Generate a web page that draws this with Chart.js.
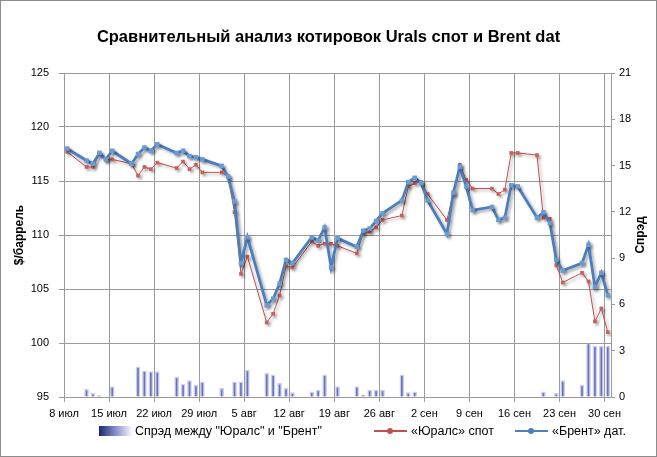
<!DOCTYPE html>
<html>
<head>
<meta charset="utf-8">
<script src="https://cdn.jsdelivr.net/npm/chart.js@4.4.0/dist/chart.umd.min.js"></script>
<style>
  body { margin: 0; background: #fff; }
  #wrap { position: relative; width: 657px; height: 457px; }
  #frame { position: absolute; left: 0; top: 0; width: 657px; height: 457px;
           box-sizing: border-box; border: 1px solid #8c8c8c; pointer-events: none; }
  .legend { position: absolute; left: 0; top: 423px; width: 657px; height: 16px;
            font: 12.5px "Liberation Sans", Arial, sans-serif; color: #000; }
  .lg-item { position: absolute; top: 0; height: 16px; display: flex; align-items: center; white-space: nowrap; }
  .swatch { width: 34px; height: 10px; margin-right: 2px;
            background: linear-gradient(to right, #1c2670, #7e87c6 45%, #fff); }
  .ln { position: relative; width: 33px; height: 2px; margin-right: 4px; }
  .ln i { position: absolute; left: 13px; top: -2px; width: 6px; height: 6px; border-radius: 50%; }
</style>
</head>
<body>
<div id="wrap">
  <canvas id="chart" width="657" height="457"></canvas>
  <div class="legend">
    <div class="lg-item" style="left:99px"><span class="swatch"></span>Спрэд между "Юралс" и "Брент"</div>
    <div class="lg-item" style="left:374px"><span class="ln" style="background:#c0504d"><i style="background:#c0504d"></i></span>«Юралс» спот</div>
    <div class="lg-item" style="left:515px"><span class="ln" style="background:#4f81bd"><i style="background:#4f81bd"></i></span>«Брент» дат.</div>
  </div>
  <div id="frame"></div>
</div>
<script>
"use strict";

// ── Data (2011, trading days) ─────────────────────────────
const tradeDates = [
  "07-08","07-11","07-12","07-13","07-14","07-15","07-18","07-19","07-20","07-21","07-22",
  "07-25","07-26","07-27","07-28","07-29",
  "08-01","08-02","08-03","08-04","08-05","08-08","08-09","08-10","08-11","08-12",
  "08-15","08-16","08-17","08-18","08-19","08-22","08-23","08-24","08-25","08-26",
  "08-29","08-30","08-31",
  "09-01","09-02","09-05","09-06","09-07","09-08","09-09","09-12","09-13","09-14","09-15","09-16",
  "09-19","09-20","09-21","09-22","09-23","09-26","09-27","09-28","09-29","09-30",
];

const brentDated = [
  118.0, 116.9, 116.6, 117.6, 117.0, 117.8, 116.6, 117.5, 118.1, 117.8, 118.4,
  117.6, 117.8, 117.3, 117.2, 117.0,
  116.4, 115.4, 113.1, 107.4, 109.8, 103.5, 104.1, 105.5, 107.7, 107.4,
  109.8, 109.5, 110.7, 107.0, 109.7, 108.9, 110.4, 110.6, 111.3, 112.0,
  113.2, 114.9, 115.3,
  114.8, 113.2, 110.1, 113.9, 116.3, 114.5, 112.3, 112.6, 111.4, 111.6, 114.6, 114.5,
  111.6, 112.1, 111.1, 107.7, 106.7, 107.4, 109.1, 105.2, 106.5, 104.4,
];

const uralsSpot = [
  117.7, 116.3, 116.3, 117.5, 117.0, 117.0, 116.6, 115.5, 116.3, 116.1, 116.7,
  116.2, 116.8, 116.1, 116.5, 115.8,
  115.8, 115.4, 112.1, 106.4, 108.0, 101.9, 102.7, 104.4, 107.1, 107.0,
  109.4, 109.0, 109.2, 109.2, 109.0, 108.3, 110.2, 110.3, 110.7, 111.4,
  111.8, 114.5, 114.8,
  114.9, 113.8, 111.4, 113.8, 116.5, 115.1, 114.3, 114.3, 113.8, 114.2, 117.6, 117.6,
  117.4, 111.6, 111.5, 107.2, 105.6, 106.5, 105.7, 102.0, 103.2, 101.0,
];

const spreadValues = [
  0, 0.5, 0.24, 0.1, 0, 0.67, 0, 1.96, 1.7, 1.64, 1.64,
  1.31, 0.84, 1.06, 0.78, 0.99,
  0.56, 0, 0.99, 0.99, 1.75, 1.54, 1.43, 0.89, 0.56, 0.28,
  0.34, 0.45, 1.43, 0, 0.67, 0.67, 0.13, 0.45, 0.45, 0.45,
  1.43, 0.28, 0.34,
  0, 0, 0, 0, 0, 0, 0, 0, 0, 0, 0, 0,
  0, 0.34, 0, 0.24, 1.06, 0.78, 3.5, 3.3, 3.3, 3.3,
];

const weekLabels = ["8 июл","15 июл","22 июл","29 июл","5 авг","12 авг","19 авг",
                    "26 авг","2 сен","9 сен","16 сен","23 сен","30 сен"];
const leftTicks  = [95, 100, 105, 110, 115, 120, 125];
const rightTicks = [0, 3, 6, 9, 12, 15, 18, 21];

// ── Helpers ───────────────────────────────────────────────
const base = Date.UTC(2011, 6, 8);
function dayIndex(s) {
  const [m, d] = s.split("-").map(Number);
  return (Date.UTC(2011, m - 1, d) - base) / 86400000;
}
const pts = (arr) => tradeDates.map((d, i) => ({ x: dayIndex(d), y: arr[i] }));

const FONT = "'Liberation Sans', Arial, sans-serif";
const GRID = "#9a9a9a";

// drop shadow under the two lines
const lineShadow = {
  id: "lineShadow",
  beforeDatasetDraw(chart, args) {
    if (args.meta.type !== "line") return;
    const c = chart.ctx;
    c.save();
    c.shadowColor = "rgba(0,0,0,0.35)";
    c.shadowBlur = 3;
    c.shadowOffsetX = 2;
    c.shadowOffsetY = 2;
  },
  afterDatasetDraw(chart, args) {
    if (args.meta.type === "line") chart.ctx.restore();
  },
};

// secondary axis title, reads bottom to top like the left one
const rightTitle = {
  id: "rightTitle",
  afterDraw(chart) {
    const { ctx, chartArea } = chart;
    const s = chart.scales.y2;
    ctx.save();
    ctx.translate(s.right - 8, (chartArea.top + chartArea.bottom) / 2);
    ctx.rotate(-Math.PI / 2);
    ctx.font = "bold 12px " + FONT;
    ctx.fillStyle = "#000";
    ctx.textAlign = "center";
    ctx.textBaseline = "middle";
    ctx.fillText("Спрэд", 0, 0);
    ctx.restore();
  },
};

new Chart(document.getElementById("chart"), {
  data: {
    datasets: [
      {
        type: "bar",
        label: 'Спрэд между "Юралс" и "Брент"',
        data: pts(spreadValues),
        yAxisID: "y2",
        backgroundColor: "#6a72b8",
        borderColor: "rgba(160,168,225,0.55)",
        borderWidth: 1.5,
        barThickness: 4,
        order: 3,
      },
      {
        type: "line",
        label: "«Юралс» спот",
        data: pts(uralsSpot),
        yAxisID: "y",
        borderColor: "#c0504d",
        borderWidth: 1,
        pointStyle: "rect",
        pointRadius: 2.6,
        pointBackgroundColor: "#cc5f5c",
        pointBorderWidth: 0,
        tension: 0,
        order: 2,
      },
      {
        type: "line",
        label: "«Брент» дат.",
        data: pts(brentDated),
        yAxisID: "y",
        borderColor: "#4a7ebf",
        borderWidth: 2.75,
        pointStyle: "rect",
        pointRadius: 3.2,
        pointBackgroundColor: "#6b9bd6",
        pointBorderWidth: 0,
        tension: 0,
        order: 1,
      },
    ],
  },
  options: {
    responsive: false,
    animation: false,
    layout: { padding: { left: 8, right: 8, top: 0, bottom: 0 } },
    plugins: {
      legend: { display: false },
      tooltip: { enabled: false },
      title: {
        display: true,
        text: "Сравнительный анализ котировок Urals спот и Brent dat",
        color: "#000",
        font: { family: FONT, size: 16.5, weight: "bold" },
        padding: { top: 28, bottom: 25.2 },
      },
    },
    scales: {
      x: {
        type: "linear",
        offset: false,
        min: -0.5,
        max: 84.5,
        afterBuildTicks: (axis) => {
          axis.ticks = weekLabels.map((_, i) => ({ value: -0.5 + 7 * i }));
        },
        afterFit: (axis) => { axis.height = 60; },
        grid: { color: GRID, tickLength: 5, offset: false },
        border: { color: GRID },
        ticks: {
          autoSkip: false,
          maxRotation: 0,
          padding: 5,
          color: "#000",
          font: { family: FONT, size: 11 },
          callback: (v, i) => weekLabels[i],
        },
      },
      y: {
        position: "left",
        min: 95,
        max: 125,
        afterBuildTicks: (axis) => { axis.ticks = leftTicks.map((v) => ({ value: v })); },
        afterFit: (axis) => { axis.width = 56; },
        grid: { color: GRID, tickLength: 5 },
        border: { color: GRID },
        ticks: { padding: 10, color: "#000", font: { family: FONT, size: 11 } },
        title: {
          display: true,
          text: "$/баррель",
          color: "#000",
          font: { family: FONT, size: 12, weight: "bold" },
          padding: { top: 4, bottom: 0 },
        },
      },
      y2: {
        position: "right",
        min: 0,
        max: 21,
        afterBuildTicks: (axis) => { axis.ticks = rightTicks.map((v) => ({ value: v })); },
        afterFit: (axis) => { axis.width = 38; },
        grid: { drawOnChartArea: false, color: GRID, tickLength: 4 },
        border: { color: GRID },
        ticks: { padding: 4, color: "#000", font: { family: FONT, size: 11 } },
      },
    },
  },
  plugins: [lineShadow, rightTitle],
});
</script>
</body>
</html>
